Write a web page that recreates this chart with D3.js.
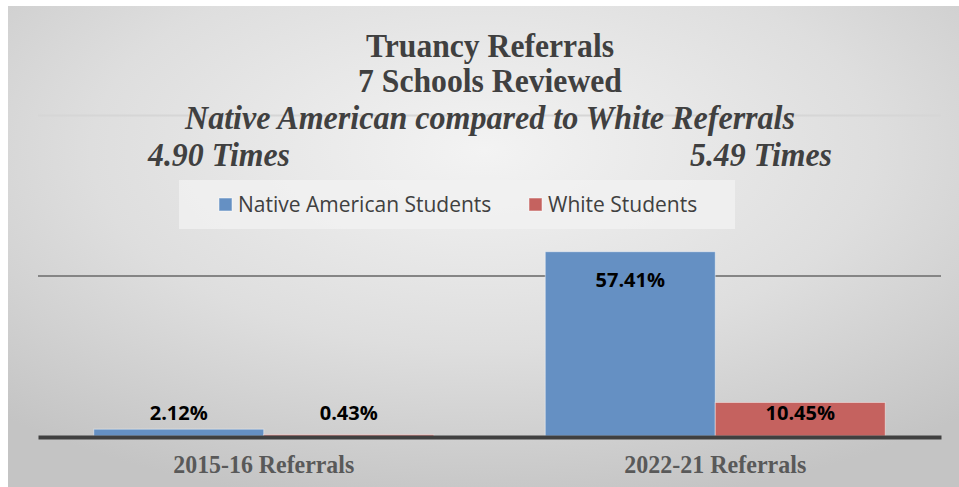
<!DOCTYPE html>
<html>
<head>
<meta charset="utf-8">
<script src="https://cdn.jsdelivr.net/npm/d3@7"></script>
<style>
  html, body { margin: 0; padding: 0; background: #fff; }
  svg { display: block; }
</style>
</head>
<body>
<svg id="chart" width="959" height="487"></svg>
<script>
const categories = ["2015-16 Referrals", "2022-21 Referrals"];
const seriesNames = ["Native American Students", "White Students"];
const nativeValues = [2.12, 57.41];
const whiteValues = [0.43, 10.45];
const gridValues = [50, 100];
const titleLines = ["Truancy Referrals", "7 Schools Reviewed"];
const subTitle = "Native American compared to White Referrals";
const timesLabels = ["4.90 Times", "5.49 Times"];

const colors = { "Native American Students": "#6590c3", "White Students": "#c5625f" };
// rendered widths of the condensed serif texts
const titleWidths = [248, 264];
const timesWidths = [142, 142];
const catWidths = [181, 182];

const svg = d3.select("#chart");
const width = +svg.attr("width");
const height = +svg.attr("height");
const serif = "'Times New Roman', 'Liberation Serif', serif";

// background gradient
const defs = svg.append("defs");
const grad = defs.append("radialGradient")
  .attr("id", "bg")
  .attr("cx", "50%").attr("cy", "30%").attr("r", "75%");
grad.append("stop").attr("offset", "0%").attr("stop-color", "#f3f3f3");
grad.append("stop").attr("offset", "55%").attr("stop-color", "#dedede");
grad.append("stop").attr("offset", "100%").attr("stop-color", "#c4c4c4");

svg.append("rect")
  .attr("x", 8).attr("y", 6)
  .attr("width", width - 8).attr("height", height - 6)
  .attr("fill", "url(#bg)");

const x0 = d3.scaleBand()
  .domain(categories)
  .range([38, 941])
  .paddingInner(0.247)
  .paddingOuter(0.1235);

const x1 = d3.scaleBand()
  .domain(seriesNames)
  .range([0, x0.bandwidth()]);

const y = d3.scaleLinear()
  .domain([0, 100])
  .range([436, 115]);

// gridlines
const grid = svg.append("g")
  .attr("transform", "translate(38,0)")
  .call(d3.axisLeft(y).tickValues(gridValues).tickSize(-903).tickFormat(""));
grid.select(".domain").remove();
grid.selectAll(".tick line")
  .attr("stroke", d => d === 100 ? "#d6d6d6" : "#858585")
  .attr("stroke-width", 2);

// legend box
svg.append("rect")
  .attr("x", 179).attr("y", 180)
  .attr("width", 556).attr("height", 49)
  .attr("fill", "#f1f1f1")
  .attr("opacity", 0.8);

const rows = categories.map((c, i) => ({
  category: c,
  values: [
    { key: seriesNames[0], value: nativeValues[i] },
    { key: seriesNames[1], value: whiteValues[i] }
  ]
}));

const groups = svg.selectAll("g.group")
  .data(rows)
  .enter()
  .append("g")
  .attr("class", "group")
  .attr("transform", d => `translate(${x0(d.category)},0)`);

groups.selectAll("rect")
  .data(d => d.values)
  .enter()
  .append("rect")
  .attr("x", d => x1(d.key))
  .attr("y", d => y(d.value))
  .attr("width", x1.bandwidth())
  .attr("height", d => y(0) - y(d.value))
  .attr("fill", d => colors[d.key])
  .attr("stroke", "rgba(255,255,255,0.45)")
  .attr("stroke-width", 1);

groups.selectAll("text.value")
  .data(d => d.values)
  .enter()
  .append("text")
  .attr("class", "value")
  .attr("x", d => x1(d.key) + x1.bandwidth() / 2)
  .attr("y", d => Math.min(y(d.value) + 35, y(0) - 16))
  .attr("text-anchor", "middle")
  .attr("font-family", "'Open Sans', sans-serif")
  .attr("font-weight", "bold")
  .attr("font-size", "20px")
  .attr("fill", "#000")
  .text(d => d.value.toFixed(2) + "%");

// category axis
const xAxis = svg.append("g")
  .attr("transform", `translate(0,${y(0) + 1})`)
  .call(d3.axisBottom(x0).tickSize(0).tickSizeOuter(0).tickPadding(18));
xAxis.select(".domain")
  .attr("stroke", "#404040")
  .attr("stroke-width", 4);
xAxis.selectAll("text")
  .attr("font-family", serif)
  .attr("font-weight", "bold")
  .attr("font-size", "26px")
  .attr("fill", "#595959")
  .attr("textLength", (d, i) => catWidths[i])
  .attr("lengthAdjust", "spacingAndGlyphs");

// titles
svg.selectAll("text.title")
  .data(titleLines)
  .enter()
  .append("text")
  .attr("class", "title")
  .attr("x", 490)
  .attr("y", (d, i) => 57 + i * 35)
  .attr("text-anchor", "middle")
  .attr("font-family", serif)
  .attr("font-weight", "bold")
  .attr("font-size", "33px")
  .attr("fill", "#404040")
  .attr("textLength", (d, i) => titleWidths[i])
  .attr("lengthAdjust", "spacingAndGlyphs")
  .text(d => d);

svg.append("text")
  .attr("x", 490)
  .attr("y", 129)
  .attr("text-anchor", "middle")
  .attr("font-family", serif)
  .attr("font-weight", "bold")
  .attr("font-style", "italic")
  .attr("font-size", "33px")
  .attr("fill", "#404040")
  .attr("textLength", 610)
  .attr("lengthAdjust", "spacingAndGlyphs")
  .text(subTitle);

svg.selectAll("text.times")
  .data(timesLabels)
  .enter()
  .append("text")
  .attr("class", "times")
  .attr("x", (d, i) => [148, 690][i])
  .attr("y", 166)
  .attr("font-family", serif)
  .attr("font-weight", "bold")
  .attr("font-style", "italic")
  .attr("font-size", "33px")
  .attr("fill", "#404040")
  .attr("textLength", (d, i) => timesWidths[i])
  .attr("lengthAdjust", "spacingAndGlyphs")
  .text(d => d);

// legend
const legend = svg.selectAll("g.legend")
  .data(seriesNames)
  .enter()
  .append("g")
  .attr("class", "legend")
  .attr("transform", (d, i) => `translate(${[219, 529][i]},198)`);

legend.append("rect")
  .attr("width", 13).attr("height", 13)
  .attr("fill", d => colors[d])
  .attr("stroke", "rgba(255,255,255,0.5)");

legend.append("text")
  .attr("x", 19)
  .attr("y", 14)
  .attr("font-family", "'Open Sans', sans-serif")
  .attr("font-size", "21px")
  .attr("fill", "#404040")
  .text(d => d);
</script>
</body>
</html>
